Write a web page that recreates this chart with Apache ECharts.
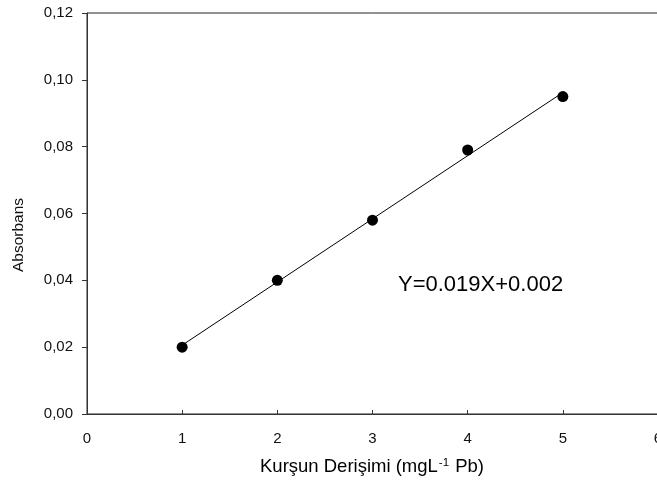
<!DOCTYPE html>
<html>
<head>
<meta charset="utf-8">
<script src="https://cdn.jsdelivr.net/npm/echarts@6/dist/echarts.min.js"></script>
<style>html,body{margin:0;padding:0;background:#fff;}#c{width:657px;height:490px;}</style>
</head>
<body>
<div id="c"></div>
<script>
var concentrations = [1, 2, 3, 4, 5];
var absorbance = [0.020, 0.040, 0.058, 0.079, 0.095];
var fitX = [1, 5];
var fitY = [0.0206, 0.0962];
var xTicks = [0, 1, 2, 3, 4, 5, 6];
var yTicks = [0, 0.02, 0.04, 0.06, 0.08, 0.10, 0.12];
var equationText = 'Y=0.019X+0.002';
var xTitle = 'Kurşun Derişimi (mgL';
var yTitle = 'Absorbans';

var FONT = '"Liberation Sans", Arial, sans-serif';
var chart = echarts.init(document.getElementById('c'), null, {renderer: 'canvas'});
var pts = concentrations.map(function (x, i) { return [x, absorbance[i]]; });
var fit = fitX.map(function (x, i) { return [x, fitY[i]]; });

chart.setOption({
  animation: false,
  backgroundColor: '#fff',
  grid: {left: 87, top: 13, width: 571, height: 401, containLabel: false, outerBoundsMode: 'none',
         show: true, borderColor: '#222', borderWidth: 1, backgroundColor: 'transparent'},
  xAxis: {
    type: 'value', min: xTicks[0], max: xTicks[xTicks.length - 1], interval: 1,
    splitLine: {show: false},
    axisLine: {show: true, lineStyle: {color: '#333', width: 1}},
    axisTick: {show: true, inside: true, length: 4, lineStyle: {color: '#333'}},
    axisLabel: {color: '#111', fontFamily: FONT, fontSize: 15, margin: 17}
  },
  yAxis: {
    type: 'value', min: yTicks[0], max: yTicks[yTicks.length - 1], interval: 0.02,
    splitLine: {show: false},
    axisLine: {show: true, lineStyle: {color: '#333', width: 1}},
    axisTick: {show: true, inside: false, length: 5, lineStyle: {color: '#333'}},
    axisLabel: {color: '#111', fontFamily: FONT, fontSize: 15, margin: 14,
      formatter: function (v) { return v.toFixed(2).replace('.', ','); }}
  },
  series: [
    {type: 'line', data: fit, symbol: 'none', lineStyle: {color: '#000', width: 1}, z: 2},
    {type: 'scatter', data: pts, symbol: 'circle', symbolSize: 11, itemStyle: {color: '#000', opacity: 1}, z: 3}
  ],
  graphic: [
    {type: 'text', left: 398, top: 274, style: {text: equationText, font: '22px ' + FONT, fill: '#000'}},
    {type: 'text', x: 372, y: 467, style: {
      text: '{a|' + xTitle + '}{s|-1}{a| Pb)}',
      rich: {a: {fontFamily: FONT, fontSize: 18.5, color: '#111'},
             s: {fontFamily: FONT, fontSize: 11.5, color: '#111', verticalAlign: 'top', padding: [0, 1, 9, 1]}},
      align: 'center', verticalAlign: 'middle'}},
    {type: 'text', x: 19, y: 235, rotation: Math.PI / 2, style: {
      text: yTitle, font: '15.5px ' + FONT, fill: '#111', align: 'center', verticalAlign: 'middle'}}
  ]
});
</script>
</body>
</html>
